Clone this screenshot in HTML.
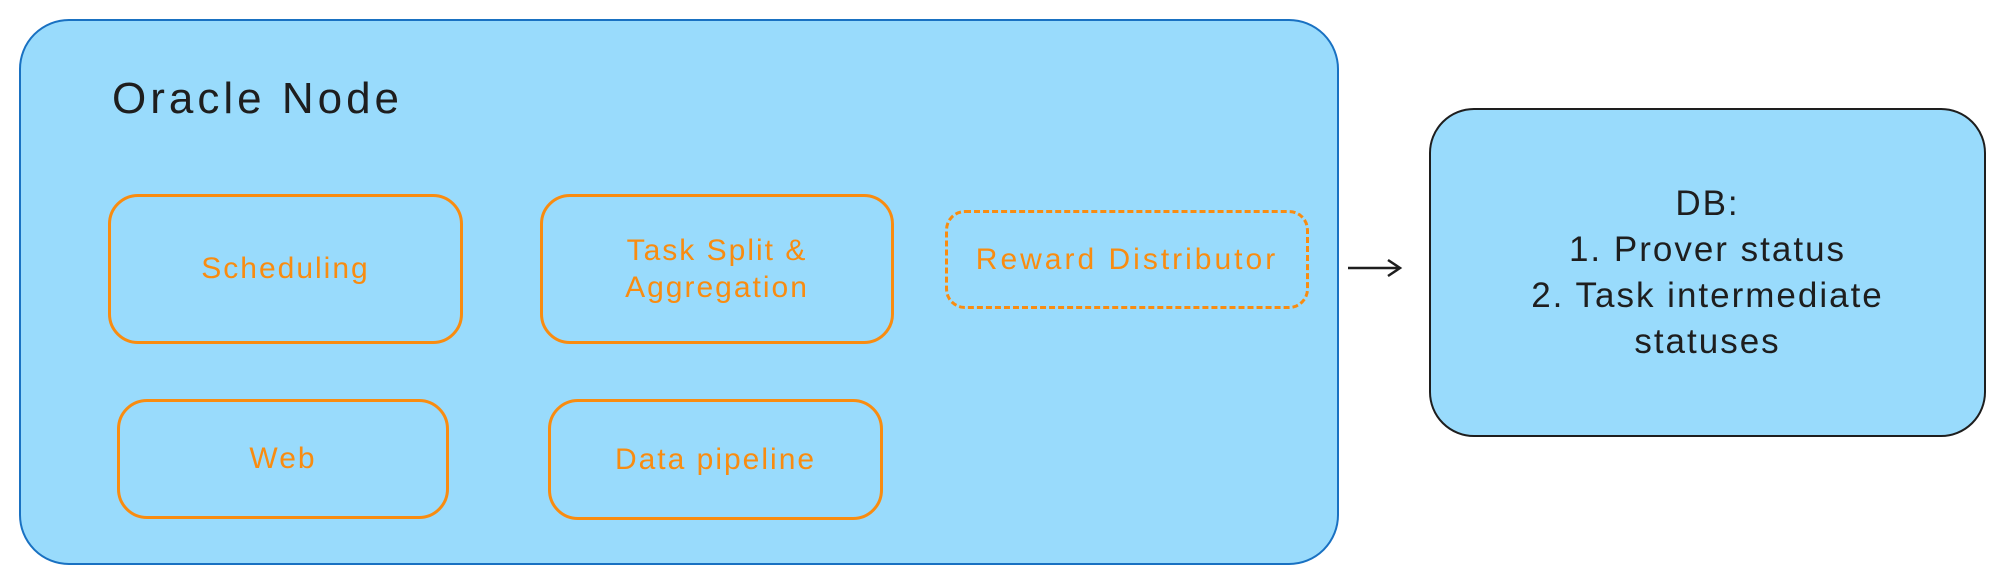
<!DOCTYPE html>
<html><head><style>
body{margin:0;width:2000px;height:581px;background:#fff;position:relative;overflow:hidden;font-family:"Liberation Sans",sans-serif}
.b{position:absolute;box-sizing:border-box}
.o{border:3px solid #f98c10;border-radius:30px;color:#f98c10;font-size:30px;letter-spacing:2px;display:flex;align-items:center;justify-content:center;text-align:center;line-height:1.25}
</style></head><body>
<div class="b" style="left:19px;top:19px;width:1320px;height:546px;background:#99dbfc;border:2px solid #1971c2;border-radius:50px"></div>
<div class="b" style="left:112px;top:74px;font-size:44px;letter-spacing:4px;color:#1e1e1e">Oracle Node</div>
<div class="b o" style="left:108px;top:194px;width:355px;height:150px">Scheduling</div>
<div class="b o" style="left:540px;top:194px;width:354px;height:150px">Task Split &amp;<br>Aggregation</div>
<div class="b o" style="left:945px;top:210px;width:364px;height:99px;border-style:dashed;border-radius:20px;letter-spacing:3px">Reward Distributor</div>
<div class="b o" style="left:117px;top:399px;width:332px;height:120px">Web</div>
<div class="b o" style="left:548px;top:399px;width:335px;height:121px">Data pipeline</div>
<svg class="b" style="left:1340px;top:250px" width="70" height="36"><line x1="8" y1="18" x2="60" y2="18" stroke="#1e1e1e" stroke-width="2.5"/><path d="M48 10 L60 18 L48 26" fill="none" stroke="#1e1e1e" stroke-width="2.5"/></svg>
<div class="b" style="left:1429px;top:108px;width:557px;height:329px;background:#99dbfc;border:2px solid #1e1e1e;border-radius:45px"></div>
<div class="b" style="left:1429px;top:181px;width:557px;text-align:center;font-size:35px;letter-spacing:2px;line-height:46px;color:#1e1e1e">DB:<br>1. Prover status<br>2. Task intermediate<br>statuses</div>
</body></html>
